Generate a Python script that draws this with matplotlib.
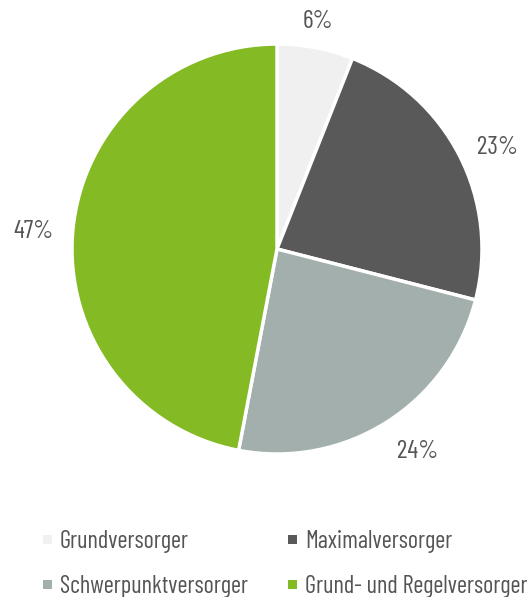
import matplotlib.pyplot as plt
from matplotlib.patches import Rectangle

categories = ['Grundversorger', 'Maximalversorger', 'Schwerpunktversorger', 'Grund- und Regelversorger']
shares = [6, 23, 24, 47]
colors = ['#F0F0F0', '#595959', '#A3AFAC', '#84BB25']
pct_labels = ['6%', '23%', '24%', '47%']

plt.rcParams['font.family'] = ['Barlow Condensed', 'DejaVu Sans']
text_color = '#555555'

W, H = 527, 597
fig = plt.figure(figsize=(W / 100, H / 100), dpi=100)
ax = fig.add_axes([0, 0, 1, 1])

cx, cy, r = 277, H - 249, 205
wedges, texts = ax.pie(shares, colors=colors, startangle=90, counterclock=False,
                       center=(cx, cy), radius=r, labels=pct_labels, labeldistance=1.18,
                       wedgeprops=dict(edgecolor='white', linewidth=2.5),
                       textprops=dict(color=text_color, fontsize=18.5), frame=True)
ax.axis('off')
ax.set_xlim(0, W)
ax.set_ylim(0, H)
ax.set_aspect('equal')

# label positions as in the reference (pixels from top-left)
label_pos = [(318, 21), (498, 147), (418, 452), (34, 231)]
for t, (x, y) in zip(texts, label_pos):
    t.set_position((x, H - y))
    t.set_ha('center')
    t.set_va('center')

# legend: two columns, two rows
col_x = [43, 288]
row_y = [548, 593]   # text baselines
for i, (name, col) in enumerate(zip(categories, colors)):
    x = col_x[i % 2]
    y = row_y[i // 2]
    ax.add_patch(Rectangle((x, H - y + 4), 9, 9, facecolor=col, edgecolor='none'))
    ax.text(x + 17, H - y, name, fontsize=17.5, color=text_color, ha='left', va='baseline')

fig.savefig('out.png', dpi=100, facecolor='white')
